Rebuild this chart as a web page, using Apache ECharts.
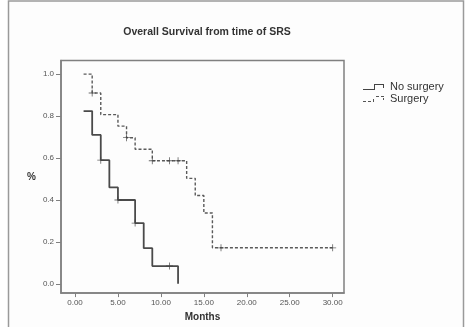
<!DOCTYPE html>
<html>
<head>
<meta charset="utf-8">
<script src="https://cdn.jsdelivr.net/npm/echarts@6/dist/echarts.min.js"></script>
<style>
  html, body { margin: 0; padding: 0; background: #fff; }
  #chart { width: 468px; height: 327px; }
</style>
</head>
<body>
<div id="chart"></div>
<script>
  // step curves: [months, survival], value holds from that time onward
  const noSurgery = [[1, 0.824], [2, 0.71], [3, 0.59], [4, 0.46], [5, 0.40], [7, 0.29], [8, 0.17], [9, 0.085], [12, 0.085], [12, 0.0]]
  const surgery = [[1, 1.0], [2, 0.91], [3, 0.807], [5, 0.752], [6, 0.697], [7, 0.642], [9, 0.587], [13, 0.503], [14, 0.421], [15, 0.338], [16, 0.172], [30, 0.172]]
  // censored cases
  const noSurgeryCensored = [[3, 0.59], [5, 0.40], [7, 0.29], [11, 0.085]]
  const surgeryCensored = [[2, 0.91], [6, 0.697], [9, 0.587], [11, 0.587], [12, 0.587], [17, 0.172], [30, 0.172]]
  const xTicks = [0, 5, 10, 15, 20, 25, 30]
  const yTicks = [0, 0.2, 0.4, 0.6, 0.8, 1.0]

  const plusPath = 'path://M4.4,0h1.2v4.4h4.4v1.2h-4.4v4.4h-1.2v-4.4h-4.4v-1.2h4.4z'
  const solidIcon = 'path://M0,5h11v-5h10v4h-1v-3h-8v5h-12z'
  const dashedIcon = 'path://M0,5h3v1h-3zM5,5h3v1h-3zM10,3h1v3h-1zM13,0h3v1h-3zM18,0h3v1h-3zM20,2h1v2h-1z'

  const chart = echarts.init(document.getElementById('chart'))
  const labelStyle = { color: '#555', fontSize: 8, fontFamily: 'Liberation Sans' }

  chart.setOption({
    animation: false,
    backgroundColor: '#fff',
    title: {
      text: 'Overall Survival from time of SRS',
      left: 202, top: 22, textAlign: 'center',
      textStyle: { fontSize: 10.5, fontWeight: 'bold', color: '#333', fontFamily: 'Liberation Sans' }
    },
    graphic: [{
      type: 'rect', z: -10, silent: true,
      shape: { x: 8.5, y: 1, width: 455, height: 340 },
      style: { fill: '#fdfdfd', stroke: '#9a9a9a', lineWidth: 1.5 }
    }],
    legend: {
      orient: 'vertical', left: 358, top: 76,
      itemWidth: 23, itemHeight: 6, itemGap: 0,
      textStyle: { fontSize: 11, color: '#333', fontFamily: 'Liberation Sans', lineHeight: 12 },
      data: [
        { name: 'No surgery', icon: solidIcon, itemStyle: { color: '#444' } },
        { name: 'Surgery', icon: dashedIcon, itemStyle: { color: '#555' } }
      ]
    },
    grid: {
      left: 61, top: 60.5, right: 124, bottom: 32,
      show: true, borderColor: '#808080', borderWidth: 1.5
    },
    xAxis: {
      type: 'value', min: -1.63, max: 31.32,
      name: 'Months', nameLocation: 'middle', nameGap: 18,
      nameTextStyle: { fontSize: 10, fontWeight: 'bold', color: '#333', fontFamily: 'Liberation Sans' },
      axisLine: { show: true, onZero: false, lineStyle: { color: '#808080', width: 1.5 } },
      axisTick: { show: true, length: 4, customValues: xTicks, lineStyle: { color: '#808080' } },
      axisLabel: { ...labelStyle, margin: 6, customValues: xTicks, formatter: v => v.toFixed(2) },
      splitLine: { show: false }
    },
    yAxis: {
      type: 'value', min: -0.044, max: 1.065,
      name: '%', nameLocation: 'middle', nameGap: 25, nameRotate: 0,
      nameTextStyle: { fontSize: 10, fontWeight: 'bold', color: '#333', fontFamily: 'Liberation Sans' },
      axisLine: { show: true, onZero: false, lineStyle: { color: '#808080', width: 1.5 } },
      axisTick: { show: true, length: 5, customValues: yTicks, lineStyle: { color: '#808080' } },
      axisLabel: { ...labelStyle, margin: 7, customValues: yTicks, formatter: v => v.toFixed(1) },
      splitLine: { show: false }
    },
    series: [
      {
        name: 'No surgery', type: 'line', step: 'end', data: noSurgery,
        showSymbol: false, color: '#444',
        lineStyle: { color: '#4a4a4a', width: 1.8 }
      },
      {
        name: 'Surgery', type: 'line', step: 'end', data: surgery,
        showSymbol: false, color: '#555',
        lineStyle: { color: '#5a5a5a', width: 1.4, type: [3, 2] }
      },
      {
        type: 'scatter', data: noSurgeryCensored, symbol: plusPath, symbolSize: 7,
        itemStyle: { color: '#444' }, z: 5
      },
      {
        type: 'scatter', data: surgeryCensored, symbol: plusPath, symbolSize: 7,
        itemStyle: { color: '#444' }, z: 5
      }
    ]
  })
</script>
</body>
</html>
